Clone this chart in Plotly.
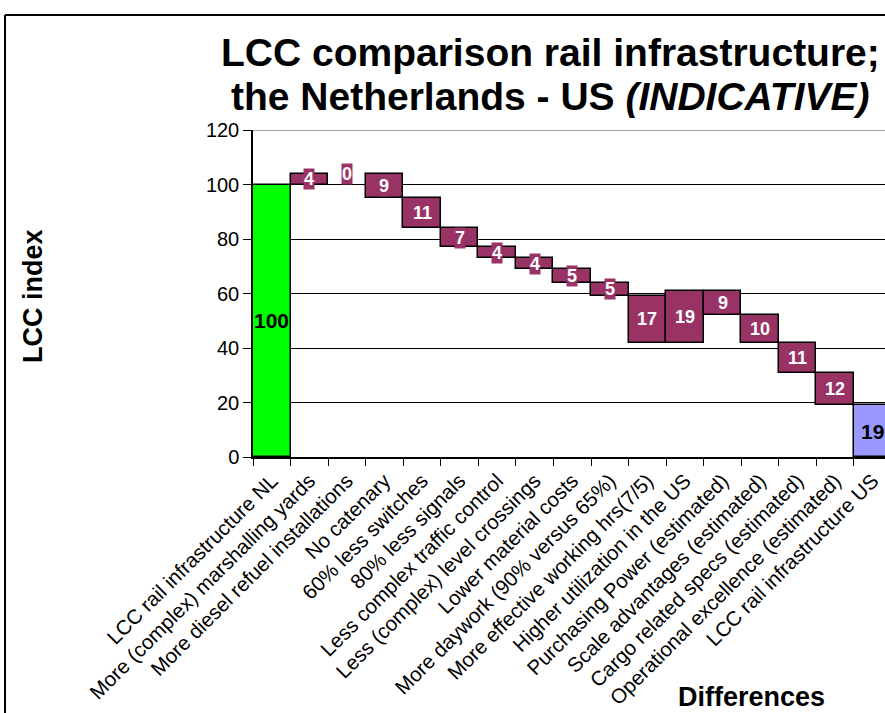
import plotly.graph_objects as go

# ---- data -------------------------------------------------------------
categories = [
    "LCC rail infrastructure NL",
    "More (complex) marshalling yards",
    "More diesel refuel installations",
    "No catenary",
    "60% less switches",
    "80% less signals",
    "Less complex traffic control",
    "Less (complex) level crossings",
    "Lower material costs",
    "More daywork (90% versus 65%)",
    "More effective working hrs(7/5)",
    "Higher utilization in the US",
    "Purchasing Power (estimated)",
    "Scale advantages (estimated)",
    "Cargo related specs (estimated)",
    "Operational excellence (estimated)",
    "LCC rail infrastructure US",
]
start_value = 100
changes = [4, 0, -9, -11, -7, -4, -4, -5, -5, -17, 19, -9, -10, -11, -12]
end_value = 19
y_ticks = [0, 20, 40, 60, 80, 100, 120]

# ---- waterfall geometry (floating bars) -------------------------------
bases = [0]
heights = [start_value]
level = start_value
for c in changes:
    bases.append(min(level, level + c))
    heights.append(abs(c))
    level += c
bases.append(0)
heights.append(end_value)

GREEN, PLUM, LILAC = "#00FF00", "#993366", "#9999FF"
colors = [GREEN] + [PLUM] * len(changes) + [LILAC]
line_widths = [0 if h == 0 else 1.5 for h in heights]

# ---- page geometry -----------------------------------------------------
W, H = 885, 713
ML, MT, MR = 253, 130, 0
PLOT_BOTTOM = 457
MB = H - PLOT_BOTTOM
CAT_PX = 37.56
plot_w = W - ML - MR
plot_h = PLOT_BOTTOM - MT


def px_x(x):
    return (x - ML) / plot_w


def px_y(y):
    return (PLOT_BOTTOM - y) / plot_h


FONT = "Arial, Liberation Sans, sans-serif"

fig = go.Figure()
fig.add_trace(
    go.Bar(
        x=categories,
        y=heights,
        base=bases,
        width=1,
        marker=dict(color=colors, line=dict(color="black", width=line_widths)),
        hoverinfo="skip",
        showlegend=False,
    )
)

# value labels
annotations = []
for i, (b, h) in enumerate(zip(bases, heights)):
    is_total = i == 0 or i == len(heights) - 1
    annotations.append(
        dict(
            x=i,
            y=b + h / 2,
            xref="x",
            yref="y",
            text=f"<b>{h}</b>",
            showarrow=False,
            font=dict(family=FONT, size=21 if is_total else 18,
                      color="black" if is_total else "white"),
            bgcolor=None if is_total else PLUM,
            borderpad=0,
            xanchor="center",
            yanchor="middle",
        )
    )

# titles
annotations += [
    dict(
        x=px_x(550), y=px_y(52), xref="paper", yref="paper",
        text="<b>LCC comparison rail infrastructure;</b>",
        showarrow=False, font=dict(family=FONT, size=39, color="black"),
        xanchor="center", yanchor="middle",
    ),
    dict(
        x=px_x(550), y=px_y(97), xref="paper", yref="paper",
        text="<b>the Netherlands - US <i>(INDICATIVE)</i></b>",
        showarrow=False, font=dict(family=FONT, size=39, color="black"),
        xanchor="center", yanchor="middle",
    ),
    dict(
        x=px_x(33), y=px_y(296), xref="paper", yref="paper",
        text="<b>LCC index</b>", textangle=-90,
        showarrow=False, font=dict(family=FONT, size=27, color="black"),
        xanchor="center", yanchor="middle",
    ),
    dict(
        x=px_x(751), y=px_y(697), xref="paper", yref="paper",
        text="<b>Differences</b>",
        showarrow=False, font=dict(family=FONT, size=27, color="black"),
        xanchor="center", yanchor="middle",
    ),
]

shapes = [
    # top gridline drawn grey
    dict(type="line", xref="paper", yref="y", x0=0, x1=1, y0=120, y1=120,
         line=dict(color="#808080", width=1.5), layer="above"),
    # chart frame (top and left edges)
    dict(type="line", xref="paper", yref="paper",
         x0=px_x(5), x1=px_x(W + 20), y0=px_y(15), y1=px_y(15),
         line=dict(color="black", width=2)),
    dict(type="line", xref="paper", yref="paper",
         x0=px_x(5), x1=px_x(5), y0=px_y(15), y1=px_y(H + 20),
         line=dict(color="black", width=2)),
]

fig.update_layout(
    width=W,
    height=H,
    margin=dict(l=ML, r=MR, t=MT, b=MB, pad=0, autoexpand=False),
    paper_bgcolor="white",
    plot_bgcolor="white",
    bargap=0,
    font=dict(family=FONT, color="black"),
    annotations=annotations,
    shapes=shapes,
    xaxis=dict(
        type="category",
        range=[-0.5, -0.5 + plot_w / CAT_PX],
        automargin=False,
        tickson="boundaries",
        ticks="outside",
        ticklen=7,
        tickcolor="black",
        tickwidth=1,
        tickangle=-45,
        ticklabelstandoff=2,
        tickfont=dict(family=FONT, size=20.5, color="black"),
        showline=True,
        linecolor="black",
        linewidth=1.5,
        showgrid=False,
        zeroline=False,
        fixedrange=True,
    ),
    yaxis=dict(
        range=[0, 120],
        automargin=False,
        tickvals=y_ticks,
        ticks="outside",
        ticklen=8,
        tickcolor="black",
        tickwidth=1,
        tickfont=dict(family=FONT, size=20, color="black"),
        showline=True,
        linecolor="black",
        linewidth=1.5,
        showgrid=True,
        gridcolor="black",
        gridwidth=1,
        zeroline=False,
        fixedrange=True,
    ),
)

fig.write_html("out.html")
